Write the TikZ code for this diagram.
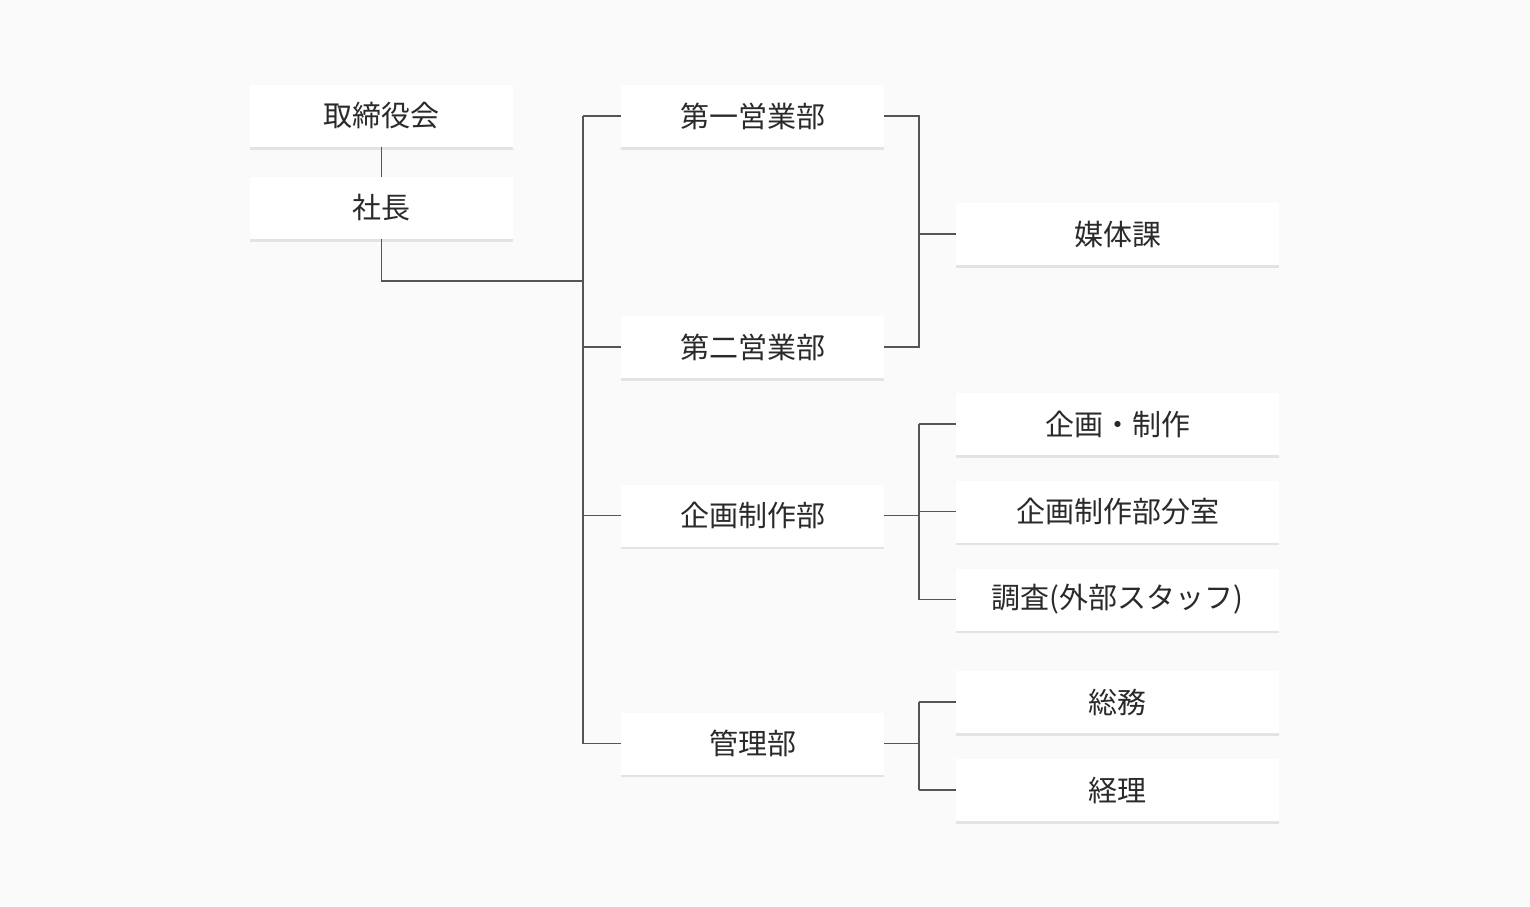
\documentclass[tikz,border=0pt]{standalone}
\usepackage{fontspec}
\setmainfont{Noto Sans CJK JP}
\usetikzlibrary{positioning,shadows}
\definecolor{bgcol}{HTML}{FAFAFA}
\definecolor{linecol}{HTML}{555555}
\definecolor{txtcol}{HTML}{2A2A2A}
\tikzset{
	unit/.style={fill=white,minimum height=62pt,text=txtcol,font=\fontsize{29}{33}\selectfont,
		drop shadow={shadow xshift=0pt,shadow yshift=-2.5pt,opacity=0.18}},
	unitl/.style={unit,minimum width=263pt},
	units/.style={unit,minimum width=323pt},
	conn/.style={linecol,line width=1.3pt}
}
\newcommand{\branch}[2]{
	\foreach \b in {#2}{
		\draw[conn] (#1 |- \b) -- (\b.west);
	}
}
\begin{document}
\begin{tikzpicture}[x=1pt,y=-1pt]
\fill[bgcol] (0,0) rectangle (1530,906);
\useasboundingbox (0,0) rectangle (1530,906);

% left column
\node[unitl] (board) at (381.5,116) {取締役会};
\node[unitl] (pres) at (381.5,208) {社長};

% departments
\node[unitl] (sales1) at (752.5,116) {第一営業部};
\node[unitl] (sales2) at (752.5,347) {第二営業部};
\node[unitl] (plan) at (752.5,515.5) {企画制作部};
\node[unitl] (admin) at (752.5,743.5) {管理部};

% sections
\node[units] (media) at (1117.5,234) {媒体課};
\node[units] (prod) at (1117.5,424) {企画・制作};
\node[units] (branchoff) at (1117.5,511.5) {企画制作部分室};
\node[units] (survey) at (1117.5,599.5) {調査(外部スタッフ)};
\node[units] (general) at (1117.5,702) {総務};
\node[units] (acct) at (1117.5,790) {経理};

\coordinate (trunk) at (583,281);
\coordinate (busa) at (919,0);

\draw[conn] (board) -- (pres);
\draw[conn] (pres.south) |- (trunk);
\draw[conn] (trunk |- sales1) -- (trunk |- admin);
\branch{trunk}{sales1,sales2,plan,admin}

\draw[conn] (sales1.east) -| (busa |- media) |- (sales2.east);
\branch{busa}{media}
\draw[conn] (busa |- prod) -- (busa |- survey);
\draw[conn] (plan.east) -- (busa |- plan);
\branch{busa}{prod,branchoff,survey}
\draw[conn] (busa |- general) -- (busa |- acct);
\draw[conn] (admin.east) -- (busa |- admin);
\branch{busa}{general,acct}
\end{tikzpicture}
\end{document}
